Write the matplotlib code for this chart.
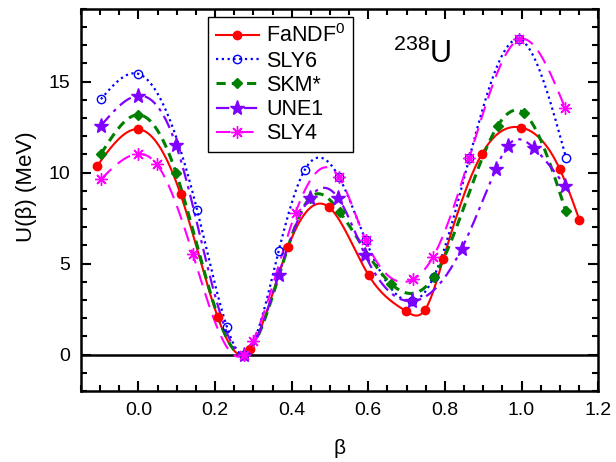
import numpy as np
import matplotlib
matplotlib.use("Agg")
import matplotlib.pyplot as plt
from matplotlib.ticker import MultipleLocator

# beta and U(beta) in MeV
beta_fandf = [-0.108, 0.0, 0.110, 0.207, 0.275, 0.292, 0.391, 0.498, 0.601, 0.698, 0.748, 0.796, 0.896, 0.999, 1.100, 1.151]
u_fandf = [10.37, 12.39, 8.81, 2.06, 0.0, 0.31, 5.93, 8.09, 4.36, 2.39, 2.46, 5.28, 11.01, 12.48, 10.19, 7.41]

beta_sly6 = [-0.098, 0.0, 0.153, 0.231, 0.275, 0.366, 0.434, 0.523, 0.593, 0.715, 0.771, 0.864, 0.993, 1.116]
u_sly6 = [14.04, 15.43, 7.96, 1.52, 0.0, 5.69, 10.15, 9.78, 6.29, 2.95, 4.27, 10.83, 17.32, 10.83]

beta_skm = [-0.098, 0.0, 0.098, 0.275, 0.447, 0.525, 0.659, 0.771, 0.938, 1.007, 1.115]
u_skm = [11.03, 13.18, 10.0, 0.0, 8.6, 7.86, 3.9, 4.27, 12.58, 13.26, 7.92]

beta_une1 = [-0.098, 0.0, 0.098, 0.275, 0.366, 0.447, 0.521, 0.592, 0.715, 0.844, 0.933, 0.964, 1.033, 1.114]
u_une1 = [12.58, 14.23, 11.53, 0.0, 4.39, 8.62, 8.62, 5.46, 2.94, 5.83, 10.2, 11.47, 11.34, 9.27]

beta_sly4 = [-0.098, 0.0, 0.048, 0.142, 0.275, 0.299, 0.410, 0.523, 0.593, 0.717, 0.769, 0.864, 0.993, 1.114]
u_sly4 = [9.64, 11.03, 10.46, 5.52, 0.0, 0.77, 7.8, 9.78, 6.29, 4.14, 5.37, 10.83, 17.32, 13.55]


# natural cubic spline, only used to draw the smooth line through the points
def smooth(x, y, n=400):
    x = np.asarray(x, float)
    y = np.asarray(y, float)
    m = len(x)
    h = np.diff(x)
    A = np.zeros((m, m))
    b = np.zeros(m)
    A[0, 0] = 1
    A[-1, -1] = 1
    for i in range(1, m - 1):
        A[i, i - 1] = h[i - 1]
        A[i, i] = 2 * (h[i - 1] + h[i])
        A[i, i + 1] = h[i]
        b[i] = 6 * ((y[i + 1] - y[i]) / h[i] - (y[i] - y[i - 1]) / h[i - 1])
    M = np.linalg.solve(A, b)
    xs = np.linspace(x[0], x[-1], n)
    k = np.clip(np.searchsorted(x, xs) - 1, 0, m - 2)
    t0 = x[k + 1] - xs
    t1 = xs - x[k]
    hk = h[k]
    ys = (M[k] * t0 ** 3 + M[k + 1] * t1 ** 3) / (6 * hk) \
        + (y[k] / hk - M[k] * hk / 6) * t0 + (y[k + 1] / hk - M[k + 1] * hk / 6) * t1
    return xs, ys


plt.rcParams['font.family'] = ['Liberation Sans', 'DejaVu Sans']
plt.rcParams['mathtext.fontset'] = 'custom'
plt.rcParams['mathtext.rm'] = 'Liberation Sans'
plt.rcParams['mathtext.it'] = 'Liberation Sans:italic'

fig = plt.figure(figsize=(6.16, 4.62), dpi=100)
ax = fig.add_axes([0.1315, 0.1537, 0.8395, 0.827])

ax.axhline(0, color="black", lw=1.8, zorder=1)

series = [
    ("FaNDF$^0$", beta_fandf, u_fandf, "#FF0000", "-", "o", 6, "#FF0000", 1.5),
    ("SLY6", beta_sly6, u_sly6, "#0000FF", (0, (1, 1.6)), "o", 6, "none", 1.6),
    ("SKM*", beta_skm, u_skm, "#008000", (0, (3, 2)), "D", 5, "#008000", 2.2),
    ("UNE1", beta_une1, u_une1, "#8000FF", (0, (6, 2.5, 1.5, 2.5)), "*", 11, "#8000FF", 1.6),
    ("SLY4", beta_sly4, u_sly4, "#FF00FF", (0, (7, 4)), (8, 2, 0), 9, "#FF00FF", 1.5),
]

for label, bx, uy, col, ls, mk, ms, mfc, lw in series:
    xs, ys = smooth(bx, uy)
    ax.plot(xs, ys, color=col, ls=ls, lw=lw, zorder=2)
    ax.plot(bx, uy, ls="none", marker=mk, ms=ms, color=col, mfc=mfc, mec=col, mew=1.0, zorder=3)
    ax.plot([], [], color=col, ls=ls, lw=lw, marker=mk, ms=ms, mfc=mfc, mec=col, label=label)

ax.set_xlim(-0.15, 1.2)
ax.set_ylim(-2, 19)
ax.xaxis.set_major_locator(MultipleLocator(0.2))
ax.xaxis.set_minor_locator(MultipleLocator(0.05))
ax.yaxis.set_major_locator(MultipleLocator(5))
ax.yaxis.set_minor_locator(MultipleLocator(1))
ax.tick_params(which="both", direction="in", top=True, right=True, width=1.5, labelsize=14)
ax.tick_params(which="major", length=7, pad=8)
ax.tick_params(which="minor", length=4)
ax.set_xticks([0.0, 0.2, 0.4, 0.6, 0.8, 1.0, 1.2])
ax.set_xticklabels(["0.0", "0.2", "0.4", "0.6", "0.8", "1.0", "1.2"])
for s in ax.spines.values():
    s.set_linewidth(1.8)

ax.set_xlabel("β", fontsize=15)
ax.xaxis.set_label_coords(0.5, -0.125)
ax.set_ylabel("U(β) (MeV)", fontsize=16)
ax.yaxis.set_label_coords(-0.085, 0.534)

ax.text(0.603, 0.859, "$^{238}$U", transform=ax.transAxes, fontsize=22, ha="left", va="baseline")

leg = ax.legend(loc="upper left", bbox_to_anchor=(0.2456, 0.979), borderaxespad=0, fontsize=15.5,
                frameon=True, fancybox=False, edgecolor="black", handlelength=2.0, borderpad=0.35,
                labelspacing=0.15, handletextpad=0.35, framealpha=1)
leg.get_frame().set_linewidth(1.0)

plt.savefig("out.png", dpi=100)
plt.close()
